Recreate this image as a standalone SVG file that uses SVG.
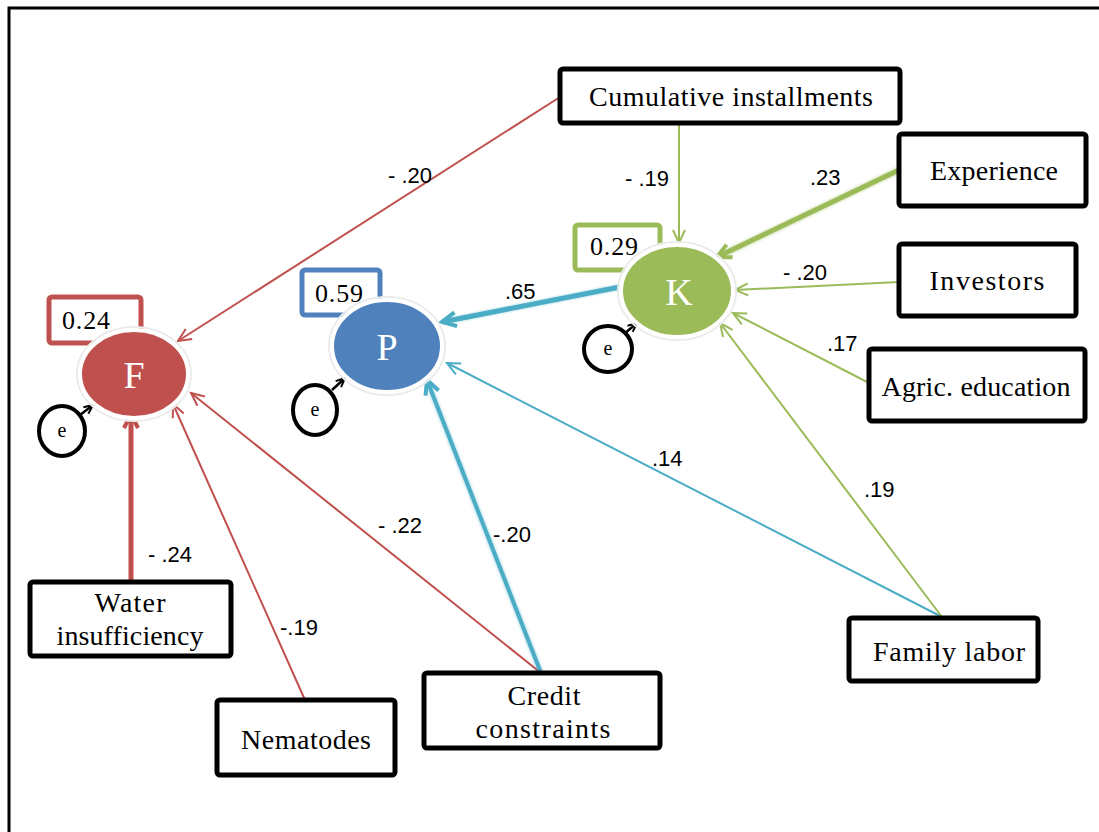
<svg xmlns="http://www.w3.org/2000/svg" width="1099" height="832" viewBox="0 0 1099 832">
<style>
.box{fill:#fff;stroke:#000;stroke-width:5}
.bt{font-family:"Liberation Serif",serif;font-size:28px;fill:#000;text-anchor:middle}
.num{font-family:"Liberation Sans",Arial,sans-serif;font-size:22px;fill:#000}
.lab{font-family:"Liberation Serif",serif;font-size:26px;fill:#000}
.big{font-family:"Liberation Serif",serif;font-size:38px;fill:#fff;text-anchor:middle}
.ecirc{fill:#fff;stroke:#000;stroke-width:4}
.et{font-family:"Liberation Serif",serif;font-size:20px;fill:#000;text-anchor:middle}
.r{stroke:#C0504D;fill:none}
.g{stroke:#9BBB59;fill:none}
.b{stroke:#4BACC6;fill:none}
.k{stroke:#000;fill:none;stroke-width:2.5}
</style>
<defs>
<marker id="ar" markerUnits="userSpaceOnUse" markerWidth="20" markerHeight="20" refX="14" refY="7" orient="auto" viewBox="0 0 20 14"><path d="M1,1 L14,7 L1,13" fill="none" stroke="#C0504D" stroke-width="2"/></marker>
<marker id="arT" markerUnits="userSpaceOnUse" markerWidth="24" markerHeight="24" refX="16" refY="9" orient="auto" viewBox="0 0 24 18"><path d="M2,2 L16,9 L2,16" fill="none" stroke="#C0504D" stroke-width="4"/></marker>
<marker id="ag" markerUnits="userSpaceOnUse" markerWidth="20" markerHeight="20" refX="14" refY="7" orient="auto" viewBox="0 0 20 14"><path d="M1,1 L14,7 L1,13" fill="none" stroke="#9BBB59" stroke-width="2"/></marker>
<marker id="agT" markerUnits="userSpaceOnUse" markerWidth="24" markerHeight="24" refX="16" refY="9" orient="auto" viewBox="0 0 24 18"><path d="M2,2 L16,9 L2,16" fill="none" stroke="#9BBB59" stroke-width="4"/></marker>
<marker id="ab" markerUnits="userSpaceOnUse" markerWidth="20" markerHeight="20" refX="14" refY="7" orient="auto" viewBox="0 0 20 14"><path d="M1,1 L14,7 L1,13" fill="none" stroke="#4BACC6" stroke-width="2"/></marker>
<marker id="abT" markerUnits="userSpaceOnUse" markerWidth="24" markerHeight="24" refX="16" refY="9" orient="auto" viewBox="0 0 24 18"><path d="M2,2 L16,9 L2,16" fill="none" stroke="#4BACC6" stroke-width="4"/></marker>
<marker id="ak" markerUnits="userSpaceOnUse" markerWidth="14" markerHeight="14" refX="10" refY="5" orient="auto" viewBox="0 0 14 10"><path d="M1,1 L10,5 L1,9" fill="none" stroke="#000" stroke-width="2"/></marker>
<filter id="soft" x="-20%" y="-20%" width="140%" height="140%"><feGaussianBlur stdDeviation="1"/></filter>
</defs>
<rect width="1099" height="832" fill="#fff"/>
<path d="M9,832 V8 H1099" fill="none" stroke="#000" stroke-width="3"/>

<g id="label-boxes">
<rect x="49" y="297" width="92" height="46" rx="3" fill="#fff" stroke="#C0504D" stroke-width="5"/>
<text class="lab" x="62" y="329" textLength="48">0.24</text>
<rect x="302" y="270" width="78" height="45" rx="3" fill="#fff" stroke="#4F81BD" stroke-width="5"/>
<text class="lab" x="315" y="302" textLength="48">0.59</text>
<rect x="575" y="225" width="85" height="45" rx="3" fill="#fff" stroke="#9BBB59" stroke-width="5"/>
<text class="lab" x="590" y="255" textLength="48">0.29</text>
</g>

<g id="connectors">
<line class="r" stroke-width="2" x1="560" y1="97" x2="178" y2="341" marker-end="url(#ar)"/>
<line class="r" stroke-width="2" x1="305" y1="700" x2="173" y2="404" marker-end="url(#ar)"/>
<line class="r" stroke-width="2" x1="541" y1="673" x2="191" y2="393" marker-end="url(#ar)"/>
<line class="r" stroke-width="7" opacity="0.35" filter="url(#soft)" x1="131" y1="582" x2="131" y2="425"/>
<line class="r" stroke-width="5" x1="131" y1="582" x2="131" y2="414" marker-end="url(#arT)"/>
<line class="b" stroke-width="2" x1="942" y1="617" x2="447" y2="363" marker-end="url(#ab)"/>
<line class="b" stroke-width="6" opacity="0.35" filter="url(#soft)" x1="541" y1="673" x2="430" y2="388"/>
<line class="b" stroke-width="4" x1="541" y1="673" x2="427" y2="380" marker-end="url(#abT)"/>
<line class="b" stroke-width="6" opacity="0.35" filter="url(#soft)" x1="620" y1="287" x2="452" y2="320"/>
<line class="b" stroke-width="5" x1="620" y1="287" x2="442" y2="322" marker-end="url(#abT)"/>
<line class="g" stroke-width="2" x1="679" y1="125" x2="679" y2="243" marker-end="url(#ag)"/>
<line class="g" stroke-width="7" opacity="0.35" filter="url(#soft)" x1="899" y1="170" x2="726" y2="253"/>
<line class="g" stroke-width="5" x1="899" y1="170" x2="717" y2="257" marker-end="url(#agT)"/>
<line class="g" stroke-width="2" x1="899" y1="282" x2="735" y2="290" marker-end="url(#ag)"/>
<line class="g" stroke-width="2" x1="869" y1="383" x2="733" y2="313" marker-end="url(#ag)"/>
<line class="g" stroke-width="2" x1="942" y1="617" x2="720" y2="323" marker-end="url(#ag)"/>
<line class="k" x1="80" y1="415" x2="93" y2="405" marker-end="url(#ak)"/>
<line class="k" x1="332" y1="390" x2="345" y2="378" marker-end="url(#ak)"/>
<line class="k" x1="624" y1="334" x2="637" y2="323" marker-end="url(#ak)"/>
</g>

<g id="node-F">
<ellipse cx="134" cy="374" rx="57" ry="47" fill="none" stroke="#ebebeb" stroke-width="2"/>
<ellipse cx="134" cy="374" rx="54" ry="44" fill="#C0504D" stroke="#fff" stroke-width="4"/>
<text class="big" x="134" y="388">F</text>
</g>
<g id="node-P">
<ellipse cx="387" cy="346" rx="58" ry="49" fill="none" stroke="#ebebeb" stroke-width="2"/>
<ellipse cx="387" cy="346" rx="55" ry="46" fill="#4F81BD" stroke="#fff" stroke-width="4"/>
<text class="big" x="387" y="360">P</text>
</g>
<g id="node-K">
<ellipse cx="677" cy="291" rx="59" ry="49" fill="none" stroke="#ebebeb" stroke-width="2"/>
<ellipse cx="677" cy="291" rx="56" ry="46" fill="#9BBB59" stroke="#fff" stroke-width="4"/>
<text class="big" x="679" y="305">K</text>
</g>

<g id="error-F"><ellipse class="ecirc" cx="62" cy="431" rx="23" ry="25"/><text class="et" x="62" y="437">e</text></g>
<g id="error-P"><ellipse class="ecirc" cx="315" cy="410" rx="22" ry="25"/><text class="et" x="315" y="416">e</text></g>
<g id="error-K"><ellipse class="ecirc" cx="608" cy="349" rx="24" ry="23"/><text class="et" x="608" y="355">e</text></g>

<g id="node-cumulative"><rect class="box" x="560" y="69" width="340" height="54" rx="3"/><text class="bt" x="731" y="106" textLength="284">Cumulative installments</text></g>
<g id="node-experience"><rect class="box" x="899" y="134" width="187" height="72" rx="3"/><text class="bt" x="994" y="180" textLength="128">Experience</text></g>
<g id="node-investors"><rect class="box" x="899" y="244" width="177" height="72" rx="3"/><text class="bt" x="987" y="290" textLength="115">Investors</text></g>
<g id="node-agric"><rect class="box" x="869" y="349" width="216" height="72" rx="3"/><text class="bt" x="976" y="396" textLength="189">Agric. education</text></g>
<g id="node-family"><rect class="box" x="849" y="618" width="189" height="63" rx="3"/><text class="bt" x="949" y="661" textLength="152">Family  labor</text></g>
<g id="node-credit"><rect class="box" x="424" y="673" width="236" height="75" rx="3"/><text class="bt" x="544" y="705" textLength="73">Credit</text><text class="bt" x="543" y="738" textLength="135">constraints</text></g>
<g id="node-nematodes"><rect class="box" x="217" y="700" width="178" height="75" rx="3"/><text class="bt" x="306" y="749" textLength="130">Nematodes</text></g>
<g id="node-water"><rect class="box" x="30" y="582" width="201" height="74" rx="3"/><text class="bt" x="130" y="612" textLength="71">Water</text><text class="bt" x="130" y="645" textLength="147">insufficiency</text></g>

<g id="coefficients">
<text class="num" x="388" y="183">- .20</text>
<text class="num" x="625" y="186">- .19</text>
<text class="num" x="810" y="185">.23</text>
<text class="num" x="783" y="280">- .20</text>
<text class="num" x="827" y="351">.17</text>
<text class="num" x="505" y="299">.65</text>
<text class="num" x="652" y="466">.14</text>
<text class="num" x="864" y="497">.19</text>
<text class="num" x="148" y="562">- .24</text>
<text class="num" x="378" y="533">- .22</text>
<text class="num" x="493" y="542">-.20</text>
<text class="num" x="280" y="635">-.19</text>
</g>
</svg>
